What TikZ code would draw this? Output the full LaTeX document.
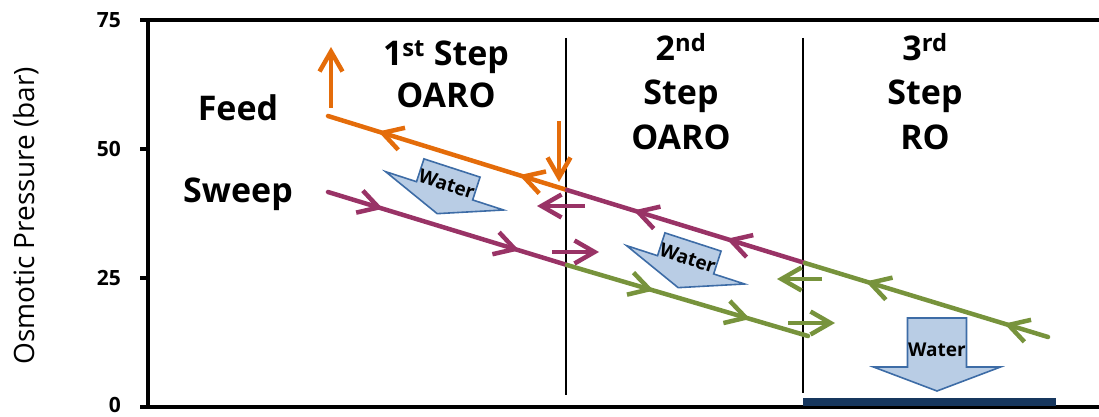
\documentclass[tikz,border=0pt]{standalone}
\usepackage{fontspec}
\setmainfont{Open Sans}
\usetikzlibrary{arrows.meta,decorations.markings}
\definecolor{feedor}{HTML}{E46C0A}
\definecolor{swpur}{HTML}{993366}
\definecolor{stgrn}{HTML}{77933C}
\definecolor{wfill}{HTML}{B9CDE5}
\definecolor{wdraw}{HTML}{3D6CA6}
\definecolor{navybar}{HTML}{17375E}
\tikzset{
  barb/.style={-{Straight Barb[length=20pt,width=23pt,line width=4.5pt]}},
  flowline/.style={line width=4.5pt, line cap=round},
  smallarrow/.style={line width=4.5pt, barb},
  axisline/.style={line width=3.5pt},
  sepline/.style={line width=1.2pt},
  bigtext/.style={font=\fontsize{34}{44}\selectfont\bfseries, inner sep=0pt, anchor=base},
  ticklabel/.style={font=\fontsize{21}{24}\selectfont\bfseries, inner sep=0pt, anchor=east},
  watertext/.style={font=\fontsize{19}{21}\selectfont\bfseries, inner sep=0pt},
  waterarrow/.style={fill=wfill, draw=wdraw, line width=1.6pt, line join=miter},
  markback/.style 2 args={postaction={decorate}, decoration={markings,
     mark=at position #1 with {\arrowreversed{Straight Barb[length=20pt,width=23pt,line width=4.5pt]}},
     mark=at position #2 with {\arrowreversed{Straight Barb[length=20pt,width=23pt,line width=4.5pt]}}}},
  markfwd/.style 2 args={postaction={decorate}, decoration={markings,
     mark=at position #1 with {\arrow{Straight Barb[length=20pt,width=23pt,line width=4.5pt]}},
     mark=at position #2 with {\arrow{Straight Barb[length=20pt,width=23pt,line width=4.5pt]}}}},
}
\begin{document}
\begin{tikzpicture}[x=1pt,y=-1pt]
\useasboundingbox (0,0) rectangle (1099,417);
% axes
\coordinate (ax0) at (148,407);
\coordinate (ax75) at (148,20);
\coordinate (topR) at (1099,20);
\coordinate (botR) at (1099,407);
\draw[axisline] (140,20) -- (topR);
\draw[axisline] (ax75) -- (ax0);
\draw[axisline] (140,407) -- (botR);
\draw[axisline] (140,149) -- (148,149);
\draw[axisline] (140,278) -- (148,278);
\node[ticklabel] (t75) at (121,20) {75};
\node[ticklabel] (t50) at (121,149) {50};
\node[ticklabel] (t25) at (121,278) {25};
\node[ticklabel] (t0) at (121,405) {0};
\node[rotate=90, font=\fontsize{28}{30}\selectfont, inner sep=0pt] (ylab) at (26,216) {Osmotic Pressure (bar)};
% separators
\coordinate (v1t) at (566,38); \coordinate (v1b) at (566,395);
\coordinate (v2t) at (803,38); \coordinate (v2b) at (803,393);
\draw[sepline] (v1t) -- (v1b);
\draw[sepline] (v2t) -- (v2b);
% bottom bar
\fill[navybar] (803,398) rectangle (1056,406);
% labels
\node[bigtext] (feed) at (238,121) {Feed};
\node[bigtext] (sweep) at (238,202) {Sweep};
\node[bigtext] (s1a) at (446,66) {1\textsuperscript{st} Step};
\node[bigtext] (s1b) at (446,108) {OARO};
\node[bigtext] (s2a) at (681,61) {2\textsuperscript{nd}};
\node[bigtext] (s2b) at (681,105) {Step};
\node[bigtext] (s2c) at (681,149) {OARO};
\node[bigtext] (s3a) at (925,61) {3\textsuperscript{rd}};
\node[bigtext] (s3b) at (925,105) {Step};
\node[bigtext] (s3c) at (925,149) {RO};
% flow lines
\coordinate (F0) at (328,116);
\coordinate (F1) at (567,190);
\coordinate (F2) at (805,263);
\coordinate (F3) at (1048,337);
\coordinate (S0) at (328,192);
\coordinate (S1) at (567,265);
\coordinate (S2) at (808,336);
\draw[flowline, feedor, markback={0.21}{0.80}] (F0) -- (F1);
\draw[flowline, swpur, markback={0.28}{0.67}] (F1) -- (F2);
\draw[flowline, stgrn, markback={0.25}{0.82}] (F2) -- (F3);
\draw[flowline, swpur, markfwd={0.23}{0.80}] (S0) -- (S1);
\draw[flowline, stgrn, markfwd={0.36}{0.76}] (S1) -- (S2);
% small arrows
\coordinate (ou0) at (331,108); \coordinate (ou1) at (331,47);
\coordinate (od0) at (559,121); \coordinate (od1) at (559,182);
\coordinate (pl0) at (585,206); \coordinate (pl1) at (537,206);
\coordinate (pr0) at (552,252); \coordinate (pr1) at (599,252);
\coordinate (gl0) at (822,279); \coordinate (gl1) at (777,279);
\coordinate (gr0) at (788,323); \coordinate (gr1) at (835,323);
\draw[smallarrow, feedor] (ou0) -- (ou1);
\draw[smallarrow, feedor] (od0) -- (od1);
\draw[smallarrow, swpur] (pl0) -- (pl1);
\draw[smallarrow, swpur] (pr0) -- (pr1);
\draw[smallarrow, stgrn] (gl0) -- (gl1);
\draw[smallarrow, stgrn] (gr0) -- (gr1);
% water arrows
\begin{scope}[shift={(452,168)}, rotate=-18]
  \draw[waterarrow] (-29.5,0) -- (29.5,0) -- (29.5,24) -- (62,24) -- (0,48) -- (-62,24) -- (-29.5,24) -- cycle;
  \node[watertext, rotate=-18] (w1) at (0,17) {Water};
\end{scope}
\begin{scope}[shift={(693,242)}, rotate=-18]
  \draw[waterarrow] (-29.5,0) -- (29.5,0) -- (29.5,24) -- (62,24) -- (0,48) -- (-62,24) -- (-29.5,24) -- cycle;
  \node[watertext, rotate=-18] (w2) at (0,17) {Water};
\end{scope}
\begin{scope}[shift={(937,318)}]
  \draw[waterarrow] (-29.5,0) -- (29.5,0) -- (29.5,49) -- (63.5,49) -- (0,73) -- (-63.5,49) -- (-29.5,49) -- cycle;
  \node[watertext] (w3) at (0,32) {Water};
\end{scope}
\end{tikzpicture}
\end{document}
